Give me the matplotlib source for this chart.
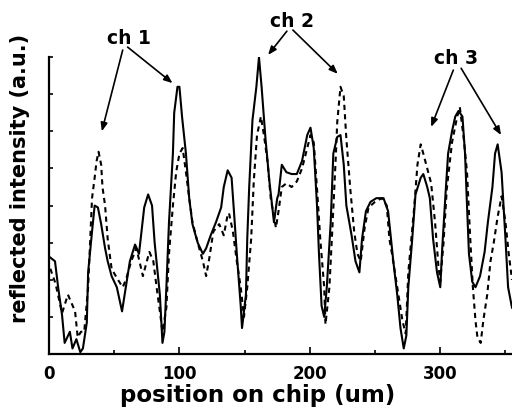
import numpy as np
import matplotlib.pyplot as plt

plt.rcParams['font.family'] = ['DejaVu Sans']
plt.rcParams['font.weight'] = 'bold'

# solid trace (position in um, intensity in a.u.)
solid_x = [1, 4.6, 7, 10, 12, 16, 18, 21, 24, 26, 29, 30, 33, 35, 37.5, 40, 43, 45, 48,
           52, 56, 58, 62, 66, 69, 73, 76, 79, 81, 85, 87, 88.5, 90, 92, 95, 96, 98.5,
           100, 102, 105, 107.5, 110, 114, 118, 120.5, 124, 128, 132, 134, 137, 140,
           142, 144, 147, 148, 151, 152, 153.5, 156, 159, 161, 163, 166, 169, 172.5,
           175, 176, 178.5, 182, 186, 190, 194, 198, 200.5, 203, 205.5, 207, 209, 211,
           213, 216, 218, 221, 223.5, 226, 228, 232, 235, 238, 240, 243, 246.5, 251,
           256.5, 260, 262.5, 264, 267, 269.5, 272, 274, 275.5, 278.5, 281, 285, 287,
           290, 292, 294.5, 297.5, 300, 301.5, 304, 306, 309, 311.5, 314, 317, 319,
           320.5, 322, 324.5, 327, 330.5, 334, 336.5, 340, 342, 344, 347, 350, 352, 355]
solid_y = [2.6, 2.5, 1.8, 1.05, 0.3, 0.6, 0.15, 0.4, 0.05, 0.15, 0.85, 2.2, 3.3, 4.0, 3.95,
           3.5, 2.85, 2.5, 2.1, 1.8, 1.15, 1.6, 2.5, 2.95, 2.7, 3.95, 4.3, 4.0, 3.0, 1.6,
           0.3, 0.6, 1.8, 3.55, 5.4, 6.5, 7.2, 7.2, 6.4, 5.4, 4.2, 3.5, 3.0, 2.7, 2.85,
           3.2, 3.55, 3.95, 4.5, 4.95, 4.75, 3.75, 2.7, 1.3, 0.7, 1.6, 3.1, 4.5, 6.3,
           7.2, 8.0, 7.2, 5.8, 4.65, 3.55, 4.2, 4.3, 5.1, 4.9, 4.85, 4.85, 5.2, 5.9, 6.1,
           5.55, 4.0, 2.7, 1.3, 1.0, 1.8, 3.55, 5.4, 5.85, 5.9, 5.1, 4.0, 3.2, 2.5, 2.2,
           3.1, 3.85, 4.1, 4.2, 4.2, 3.85, 3.0, 2.5, 1.6, 0.7, 0.15, 0.5, 1.8, 3.1, 4.3,
           4.75, 4.85, 4.5, 4.2, 3.1, 2.2, 1.8, 2.85, 4.3, 5.4, 6.0, 6.4, 6.55, 6.4, 5.4,
           4.0, 2.7, 1.95, 1.8, 2.1, 2.75, 3.55, 4.5, 5.4, 5.65, 4.9, 3.1, 1.8, 1.25]

# dashed trace
dash_x = [1, 5, 10, 14.5, 20, 22, 24.5, 27, 30, 33, 35, 36.5, 38, 40, 41, 43, 45, 48, 52,
          56.5, 59, 63, 67, 72, 75, 77, 80, 82.5, 85, 87, 90, 92, 95, 97.5, 100, 102.5,
          105, 107.5, 110, 114, 118, 120.5, 123, 126, 130.5, 134, 137, 138, 141, 144,
          147, 149.5, 152, 155, 157, 159.5, 162.5, 165, 167.5, 170, 174, 176, 178.5,
          182, 186, 190, 194, 198, 200.5, 203, 205.5, 208, 211, 212, 215, 217.5, 220,
          221, 223.5, 226, 228, 231, 234, 236.5, 239, 242, 245, 250, 255, 259, 261,
          263, 267, 271, 273.5, 275.5, 280, 282.5, 285, 287, 290, 293, 296, 298.5, 300,
          302.5, 305, 309, 313, 315, 318, 320.5, 323, 325, 327, 328.5, 331, 333, 336,
          338.5, 341, 344, 347, 350, 352.5, 355]
dash_y = [2.3, 1.9, 1.1, 1.6, 1.15, 0.45, 0.6, 0.6, 1.8, 4.2, 4.75, 5.2, 5.45, 5.1, 4.5,
          4.0, 3.1, 2.3, 2.05, 1.8, 2.0, 2.5, 2.85, 2.1, 2.5, 2.75, 2.5, 1.8, 1.15, 0.6,
          1.25, 2.7, 4.0, 4.9, 5.4, 5.55, 4.9, 4.2, 3.55, 3.0, 2.5, 2.1, 2.6, 3.3, 3.5,
          3.2, 3.75, 3.8, 3.3, 2.5, 1.8, 1.0, 1.8, 3.1, 4.65, 5.9, 6.4, 5.85, 5.2, 4.2,
          3.4, 3.85, 4.5, 4.6, 4.5, 4.65, 5.0, 5.55, 5.9, 5.7, 4.45, 3.1, 1.8, 0.8, 1.8,
          3.55, 5.4, 6.25, 7.2, 6.95, 5.8, 4.45, 3.3, 2.7, 2.5, 3.4, 3.95, 4.1, 4.2, 4.0,
          3.1, 2.7, 1.8, 0.9, 0.55, 2.2, 3.95, 5.1, 5.65, 5.4, 5.0, 4.6, 3.55, 2.4, 1.95,
          3.0, 4.45, 5.7, 6.4, 6.65, 5.8, 4.9, 3.1, 1.8, 0.9, 0.45, 0.3, 0.9, 1.6, 2.5,
          3.0, 3.7, 4.25, 3.55, 2.7, 2.0]

# channel labels: (text, text position, arrow tails, arrow tips)
channels = [
    ("ch 1", (61, 8.5), [(56.5, 8.19), (60.3, 8.27)], [(40.5, 6.0), (94.7, 7.3)]),
    ("ch 2", (186, 8.95), [(182.4, 8.7), (187, 8.73)], [(168, 8.06), (221.4, 7.55)]),
    ("ch 3", (312, 7.95), [(310, 7.65), (316, 7.7)], [(293, 6.12), (346.6, 5.9)]),
]

fig = plt.figure(figsize=(5.12, 4.17), dpi=100)
ax = fig.add_axes([0.0957, 0.151, 0.9043, 0.712])

ax.plot(solid_x, solid_y, color='black', lw=1.5)
ax.plot(dash_x, dash_y, color='black', lw=1.5, dashes=(2.5, 2))

for label, pos, tails, tips in channels:
    ax.text(pos[0], pos[1], label, ha='center', va='center', fontsize=13.5,
            fontweight='bold', clip_on=False)
    for tail, tip in zip(tails, tips):
        ax.annotate('', xy=tip, xytext=tail, annotation_clip=False,
                    arrowprops=dict(arrowstyle='-|>,head_length=0.5,head_width=0.2',
                                    color='black', lw=1.2, shrinkA=0, shrinkB=0))

ax.set_xlim(0, 355)
ax.set_ylim(0, 8)
ax.set_xticks([0, 100, 200, 300])
ax.set_xticks([50, 150, 250, 350], minor=True)
ax.set_yticks(np.arange(0, 9, 1))
ax.set_yticklabels([])
ax.tick_params(axis='x', which='major', direction='in', length=5, width=1.2,
               labelsize=12, pad=8)
ax.tick_params(axis='x', which='minor', direction='in', length=3, width=1.2)
ax.tick_params(axis='y', direction='in', length=3, width=1.2)
for lab in ax.get_xticklabels():
    lab.set_fontweight('bold')

ax.spines['top'].set_visible(False)
ax.spines['right'].set_visible(False)
ax.spines['left'].set_linewidth(1.6)
ax.spines['bottom'].set_linewidth(1.6)

ax.set_xlabel("position on chip (um)", fontsize=16.5, fontweight='bold')
ax.xaxis.set_label_coords(0.45, -0.1)
ax.xaxis.label.set_va('top')
ax.set_ylabel("reflected intensity (a.u.)", fontsize=15, fontweight='bold')
ax.yaxis.set_label_coords(-0.04, 0.59)

plt.savefig('out.png', dpi=100)
